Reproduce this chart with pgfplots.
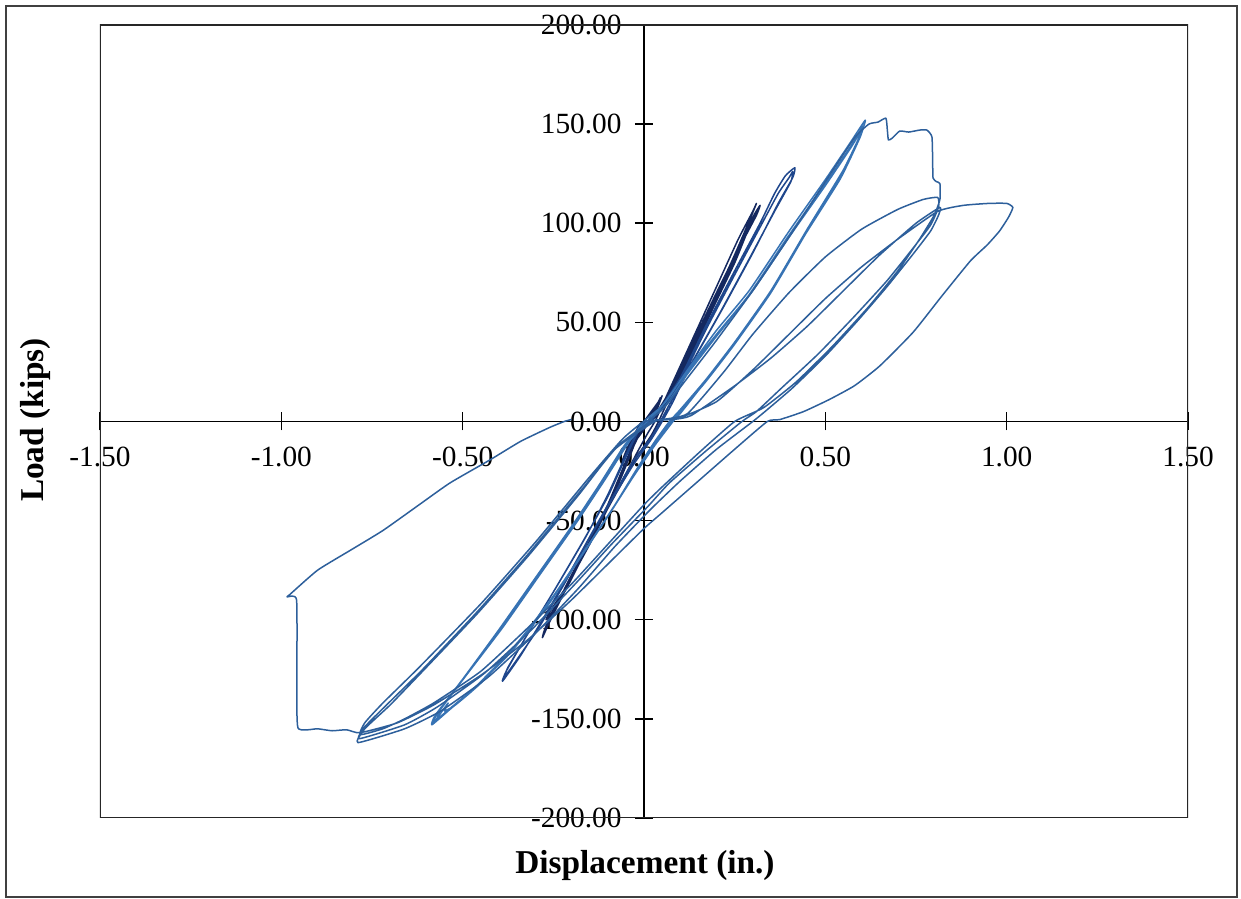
\documentclass[border=0pt]{standalone}
\usepackage{pgfplots}
\pgfplotsset{compat=1.18}
\usepackage{fontspec}
\setmainfont{Liberation Serif}

\definecolor{navy}{RGB}{20,40,95}
\definecolor{midblue}{RGB}{30,70,140}
\definecolor{steel}{RGB}{55,115,180}
\definecolor{lineblue}{RGB}{45,95,155}

\begin{document}
\begin{tikzpicture}
\useasboundingbox (-30pt,-24.3pt) rectangle (342.3pt,245.4pt);
\draw[line width=0.6pt, black!75] (-28.2pt,-23.7pt) rectangle (341.1pt,243.6pt);
\begin{axis}[
    at={(0,0)}, anchor=south west,
    scale only axis,
    width=326.4pt,
    height=237.9pt,
    xmin=-1.5, xmax=1.5,
    ymin=-200, ymax=200,
    axis lines=middle,
    axis line style={-, line width=0.45pt, black},
    hide obscured x ticks=false,
    hide obscured y ticks=false,
    xtick={-1.5,-1,-0.5,0,0.5,1,1.5},
    ytick={-200,-150,-100,-50,0,50,100,150,200},
    minor tick num=0,
    tick align=center,
    major tick length=5.4pt,
    tick style={black, line width=0.45pt},
    tick label style={font=\fontsize{8.8}{10}\selectfont},
    xticklabel style={anchor=north, yshift=-1.5pt},
    yticklabel style={anchor=east, xshift=-0.5pt},
    /pgf/number format/.cd, fixed, fixed zerofill, precision=2, assume math mode=true,
    /pgfplots/.cd,
    no markers,
    every axis plot/.append style={line width=0.45pt, line join=round, smooth, tension=0.3},
]
\draw[line width=0.6pt, black!85] (rel axis cs:0,0) rectangle (rel axis cs:1,1);

% small cycles
\addplot[navy] coordinates {
(0,0)(0.02,5)(0.04,10)(0.045,12)(0.03,6)(0.0,-3)(-0.03,-10)(-0.05,-16)(-0.04,-12)(-0.01,-2)
(0.02,4)(0.04,9)(0.05,13)(0.035,6)(0.0,-4)(-0.04,-14)(-0.06,-20)(-0.045,-13)(-0.01,-1)
(0.01,0)(0.04,6)(0.07,15)(0.10,25)(0.17,53)(0.24,80)(0.29,101)(0.31,110)
(0.30,106)(0.26,92)(0.20,68)(0.14,44)(0.09,24)(0.05,8)(0.03,0)
(0.01,-6)(-0.02,-16)(-0.06,-30)(-0.12,-50)(-0.19,-75)(-0.25,-95)(-0.27,-100)
(-0.26,-96)(-0.21,-82)(-0.15,-62)(-0.09,-40)(-0.04,-18)(-0.01,-4)(0.01,0)
(0.04,5)(0.08,17)(0.12,31)(0.18,55)(0.25,82)(0.30,103)(0.32,109)
(0.31,104)(0.27,90)(0.21,68)(0.15,45)(0.10,25)(0.06,8)(0.04,0)
(0.02,-7)(-0.02,-18)(-0.07,-34)(-0.13,-54)(-0.20,-79)(-0.26,-101)(-0.28,-109)
(-0.27,-103)(-0.22,-86)(-0.16,-64)(-0.10,-42)(-0.05,-20)(-0.01,-4)(0.02,0)
(0.05,7)(0.09,19)(0.13,33)(0.19,57)(0.25,80)(0.29,98)(0.31,106)
(0.30,101)(0.26,87)(0.20,65)(0.14,42)(0.09,22)(0.055,6)(0.04,0)
(0.02,-8)(-0.03,-20)(-0.08,-37)(-0.14,-57)(-0.21,-81)(-0.27,-104)
(-0.26,-99)(-0.21,-83)(-0.15,-61)(-0.09,-39)(-0.04,-17)(0.0,-2)(0.02,0)
};

% second level
\addplot[midblue] coordinates {
(0.02,0)(0.05,8)(0.10,22)(0.17,48)(0.25,76)(0.32,100)(0.36,115)(0.39,124)(0.416,128)
(0.41,123)(0.37,110)(0.30,85)(0.22,58)(0.14,32)(0.08,12)(0.045,0)
(0.02,-8)(-0.03,-20)(-0.08,-36)(-0.14,-55)(-0.21,-78)(-0.28,-100)(-0.34,-118)(-0.39,-131)
(-0.38,-126)(-0.33,-110)(-0.25,-86)(-0.17,-61)(-0.10,-38)(-0.05,-18)(-0.01,-3)(0.01,0)
(0.05,6)(0.10,20)(0.17,46)(0.25,74)(0.32,98)(0.37,115)(0.40,123)(0.41,126)
(0.405,121)(0.36,106)(0.29,82)(0.21,55)(0.13,29)(0.08,10)(0.05,0)
(0.02,-9)(-0.03,-22)(-0.09,-40)(-0.15,-59)(-0.22,-82)(-0.29,-104)(-0.35,-120)(-0.385,-129)
(-0.375,-124)(-0.32,-107)(-0.24,-83)(-0.16,-58)(-0.10,-37)(-0.05,-17)(-0.01,-2)(0.01,0)
};

% third level
\addplot[steel] coordinates {
(0.01,0)(0.06,10)(0.12,26)(0.2,46)(0.29,66)(0.4,96)(0.5,122)(0.57,141)(0.61,152)
(0.60,146)(0.55,127)(0.45,97)(0.35,66)(0.25,40)(0.17,21)(0.10,6)(0.07,0)
(0.03,-10)(-0.02,-24)(-0.08,-42)(-0.16,-64)(-0.25,-88)(-0.35,-112)(-0.45,-132)(-0.52,-143)(-0.55,-146)(-0.54,-142)(-0.56,-147)(-0.58,-152)
(-0.57,-147)(-0.50,-130)(-0.40,-106)(-0.30,-80)(-0.20,-54)(-0.12,-32)(-0.05,-12)(0.0,0)
(0.05,8)(0.11,23)(0.2,44)(0.29,64)(0.4,94)(0.5,120)(0.57,139)(0.605,149)
(0.595,143)(0.55,126)(0.45,96)(0.35,65)(0.25,39)(0.17,20)(0.10,5)(0.075,0)
(0.03,-11)(-0.02,-25)(-0.09,-45)(-0.17,-67)(-0.26,-91)(-0.36,-114)(-0.46,-133)(-0.53,-144)(-0.57,-150)
(-0.56,-145)(-0.49,-128)(-0.39,-104)(-0.29,-78)(-0.19,-52)(-0.11,-30)(-0.04,-10)(0.01,0)
(0.06,8)(0.12,24)(0.2,43)(0.3,66)(0.4,93)(0.5,119)(0.57,138)(0.60,147)
(0.59,141)(0.54,122)(0.44,93)(0.34,63)(0.24,37)(0.16,18)(0.10,4)(0.08,0)
(0.03,-12)(-0.03,-28)(-0.10,-48)(-0.18,-70)(-0.27,-94)(-0.37,-117)(-0.47,-135)(-0.54,-146)(-0.585,-153)
(-0.575,-148)(-0.50,-130)(-0.40,-105)(-0.30,-79)(-0.20,-53)(-0.12,-31)(-0.05,-11)(0.01,0)
};

% large cycles
\addplot[lineblue] coordinates {
(0.01,0)(0.06,8)(0.12,22)(0.2,41)(0.3,66)(0.4,93)(0.5,121)(0.58,143)(0.62,150)(0.645,151)
(0.667,153)(0.671,147)(0.674,142)(0.685,143)(0.705,146.5)(0.73,146)(0.76,147)(0.78,147)
(0.794,143.5)(0.796,130)(0.797,122.8)(0.806,121)(0.816,120)(0.816,112)
(0.80,104)(0.76,92)(0.70,76)(0.62,58)(0.52,38)(0.42,20)(0.33,7)(0.25,0)
(0.15,-16)(0.05,-33)(0.0,-42)(-0.1,-62)(-0.2,-82)(-0.32,-104)(-0.45,-126)(-0.58,-142)(-0.66,-150)(-0.72,-155)(-0.783,-158)
(-0.77,-152)(-0.72,-142)(-0.62,-124)(-0.45,-92)(-0.30,-61)(-0.15,-28)(-0.06,-9)(0.0,0)
(0.05,1)(0.12,4)(0.22,25)(0.3,44)(0.4,65)(0.5,83)(0.6,97)(0.7,107)(0.77,112)(0.81,113)
(0.812,108)(0.79,99)(0.74,87)(0.67,71)(0.58,53)(0.48,34)(0.38,17)(0.31,5)(0.27,0)
(0.17,-15)(0.07,-31)(0.01,-43)(-0.09,-62)(-0.19,-82)(-0.31,-105)(-0.44,-127)(-0.57,-144)(-0.66,-153)(-0.785,-160)
(-0.77,-154)(-0.71,-143)(-0.61,-125)(-0.46,-96)(-0.32,-67)(-0.17,-34)(-0.07,-12)(0.02,0)
(0.08,1)(0.13,3)(0.25,18)(0.35,32)(0.45,48)(0.55,66)(0.65,84)(0.75,100)(0.816,108)
(0.812,104)(0.79,96)(0.74,84)(0.67,68)(0.59,51)(0.50,33)(0.41,17)(0.34,6)(0.30,0)
(0.20,-14)(0.10,-30)(0.02,-44)(-0.08,-63)(-0.18,-84)(-0.30,-107)(-0.43,-129)(-0.56,-146)(-0.66,-155)(-0.789,-162)
(-0.77,-155)(-0.70,-143)(-0.60,-124)(-0.46,-97)(-0.32,-68)(-0.18,-37)(-0.08,-14)(0.03,0)
(0.1,2)(0.2,10)(0.3,26)(0.4,44)(0.5,62)(0.6,78)(0.7,92)(0.81,106)(0.88,109)(0.95,110)(1.0,110)(1.017,108)
(1.005,103)(0.98,96)(0.946,89)(0.90,81)(0.82,63)(0.742,45)(0.65,28)(0.58,18)(0.51,11)(0.44,5)(0.375,1)(0.34,0)
(0.25,-14)(0.15,-30)(0.05,-46)(0.0,-54)(-0.1,-72)(-0.2,-90)(-0.32,-110)(-0.45,-128)(-0.58,-143)(-0.68,-152)(-0.783,-157)
(-0.82,-155.5)(-0.86,-156)(-0.90,-155)(-0.954,-154.6)(-0.957,-130)(-0.958,-90)(-0.984,-88.5)(-0.978,-87.5)
(-0.90,-75)(-0.81,-65)(-0.72,-55)(-0.62,-42)(-0.535,-31)(-0.425,-19.4)(-0.34,-10)(-0.26,-3)(-0.22,0)(-0.20,1)
};
\end{axis}
\node[font=\bfseries\fontsize{10}{12}\selectfont] at (163.5pt,-14.1pt) {Displacement (in.)};
\node[font=\bfseries\fontsize{10}{12}\selectfont, rotate=90] at (-19.5pt,119.4pt) {Load (kips)};
\end{tikzpicture}
\end{document}
